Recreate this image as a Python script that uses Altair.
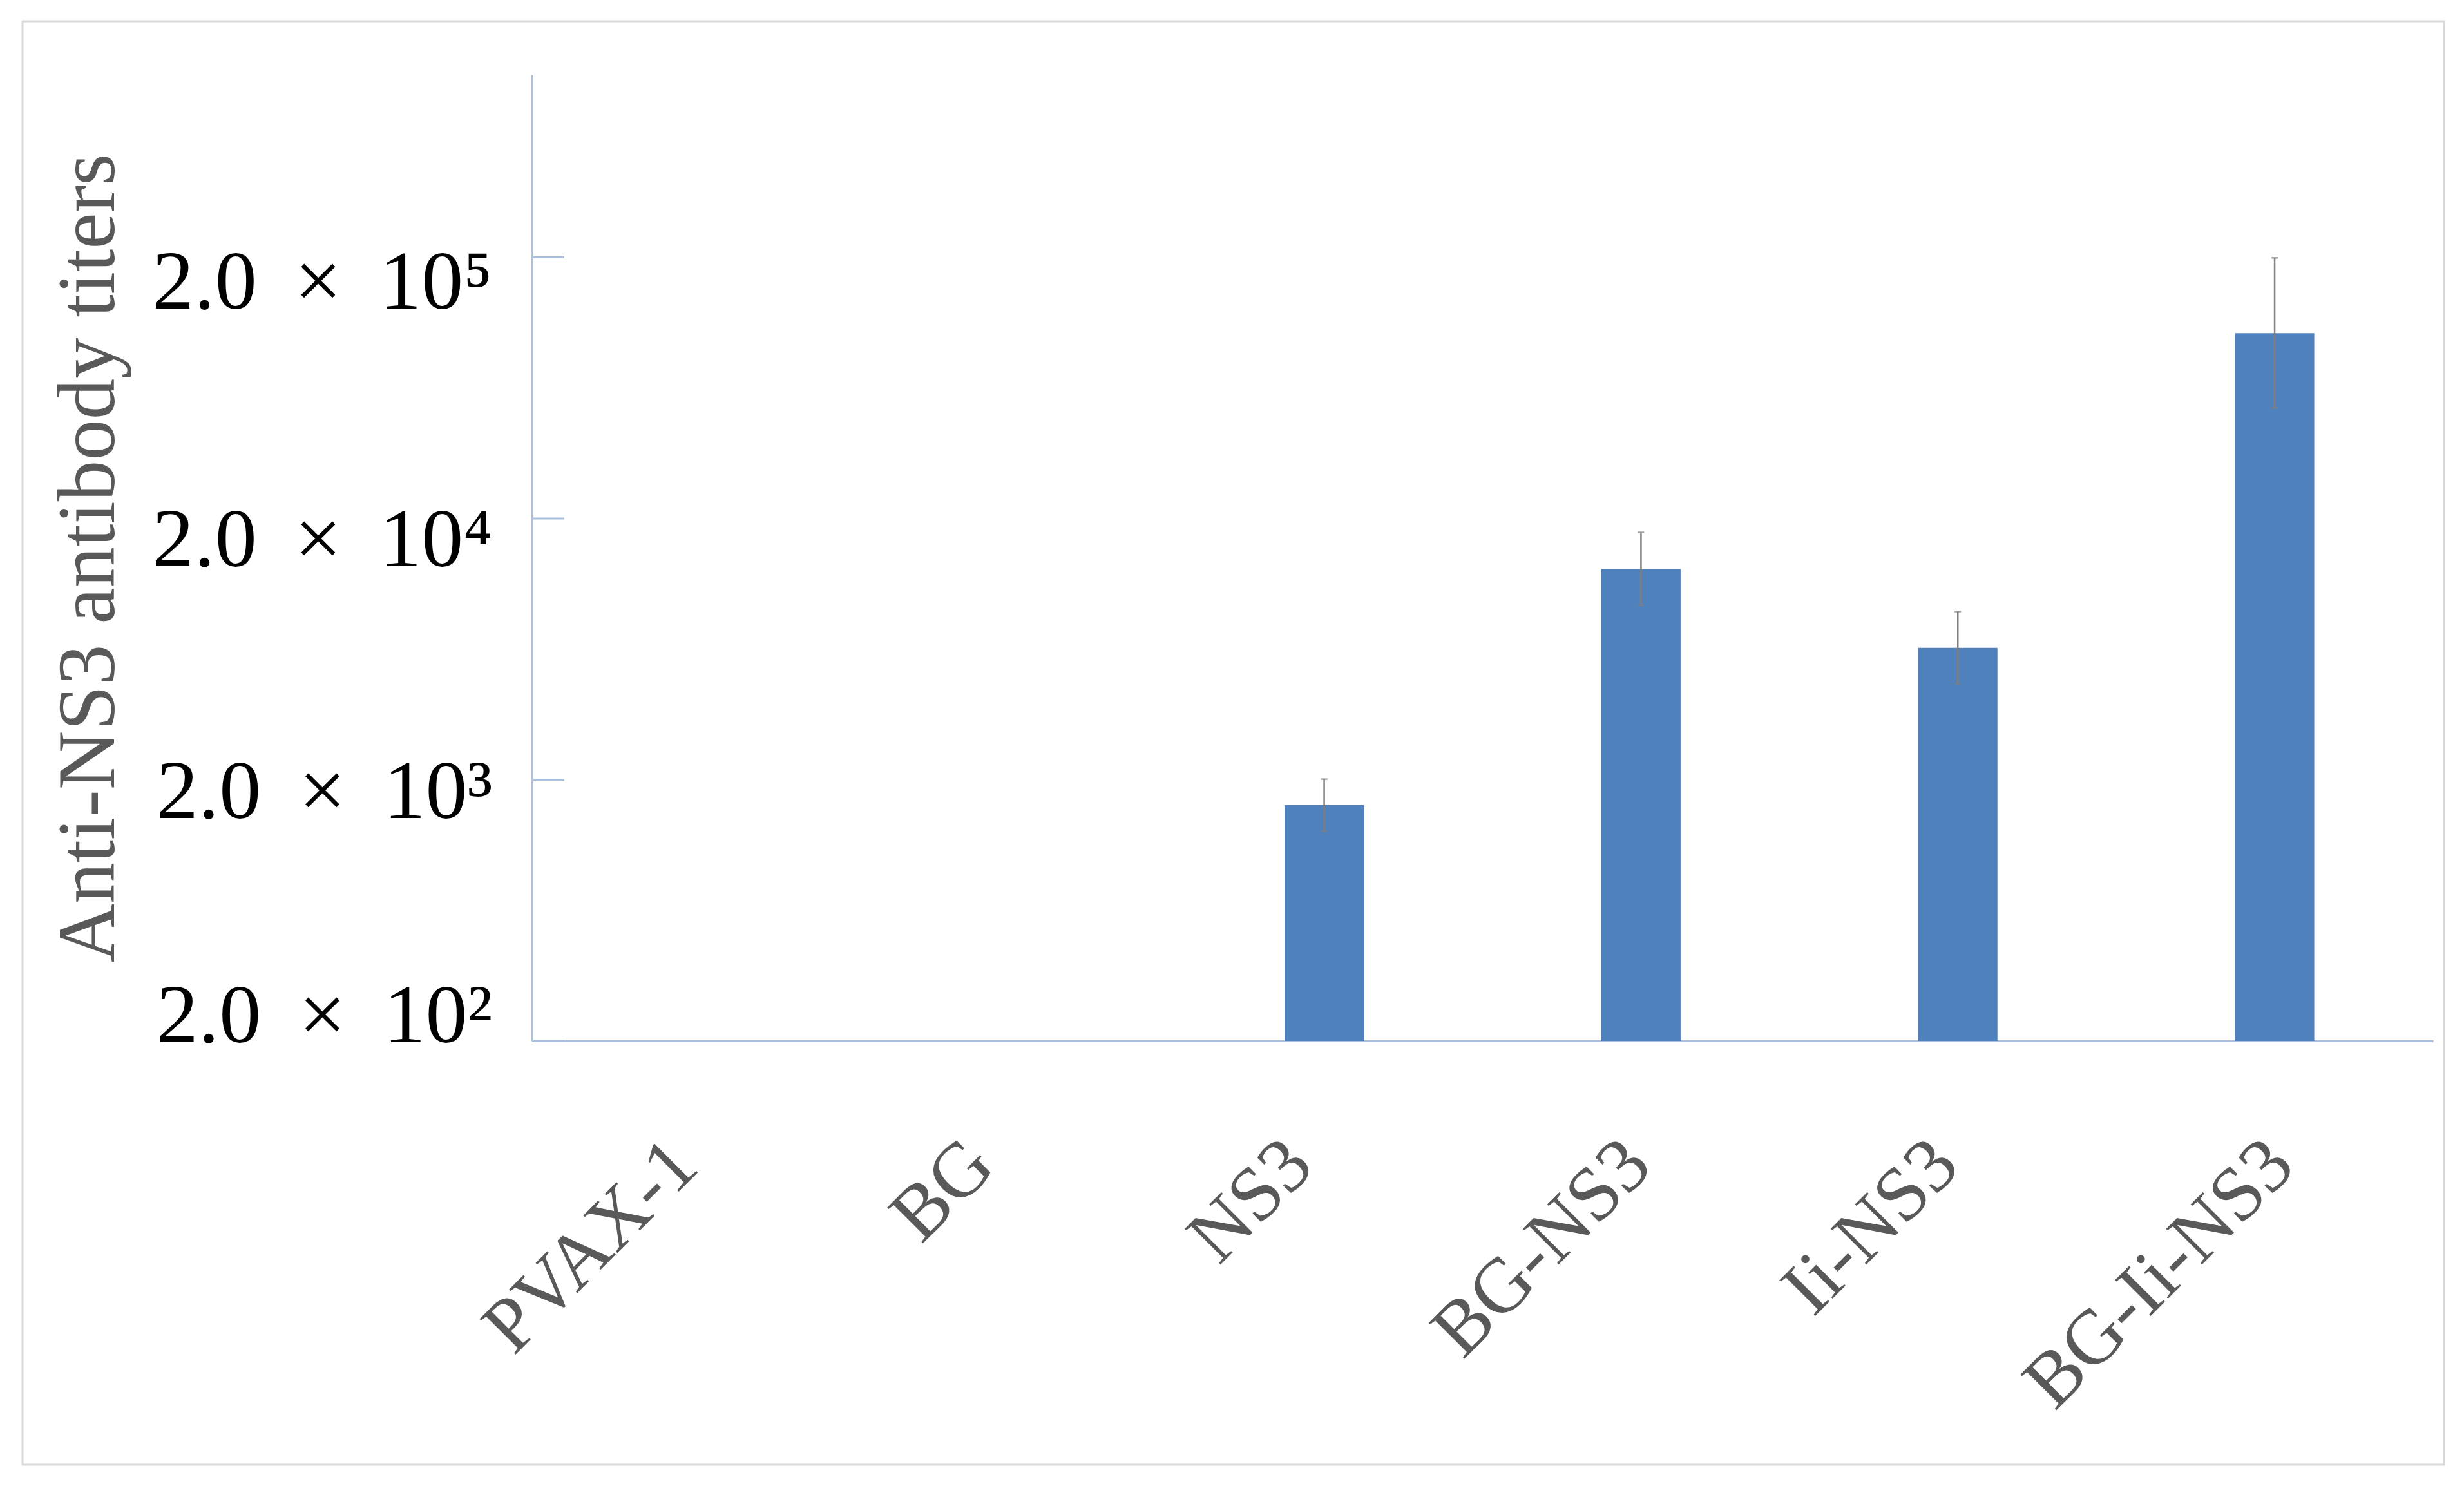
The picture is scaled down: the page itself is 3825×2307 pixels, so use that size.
import altair as alt
import pandas as pd

# ---- data ----
groups = ["PVAX-1", "BG", "NS3", "BG-NS3", "Ii-NS3", "BG-Ii-NS3"]
bar_groups = ["NS3", "BG-NS3", "Ii-NS3", "BG-Ii-NS3"]
titers = [1600, 12800, 6400, 102400]
err_high = [2010, 17700, 8800, 199000]
err_low = [1270, 9300, 4650, 52900]
y_ticks = [200, 2000, 20000, 200000]
y_tick_labels = ["2.0\u2009 ×\u2009 10²", "2.0\u2009 ×\u2009 10³",
                 "2.0\u2009 ×\u2009 10⁴", "2.0\u2009 ×\u2009 10⁵"]
y_title = "Anti-NS3 antibody titers"
y_min, y_max = 200, 1000000

df = pd.DataFrame({"group": bar_groups, "titer": titers, "high": err_high,
                   "low": err_low, "base": [y_min] * len(bar_groups)})
tick_df = pd.DataFrame({"tick": y_ticks})
frame_df = pd.DataFrame({"k": [0]})

# ---- style ----
W, H = 2951, 1500
FONT = "Liberation Serif"
AXIS_COLOR = "#A9BFDC"
GREY = "#595959"
BAR = "#4F81BD"
ERR = "#7F7F7F"

x_label_shift = [-9, -41, -38, -5, -19, 10]
y_label_shift = [-38, 20, 35, 40]

label_expr = " : ".join(f"datum.value == {v} ? '{t}'" for v, t in zip(y_ticks, y_tick_labels)) + " : ''"
y_offset = {"condition": [{"test": f"datum.value == {v}", "value": o}
                          for v, o in zip(y_ticks, y_label_shift)], "value": 0}
x_offset = {"condition": [{"test": f"datum.value == '{g}'", "value": o}
                          for g, o in zip(groups, x_label_shift)], "value": 0}

x_scale = alt.Scale(domain=groups, paddingInner=0.75, paddingOuter=0.375)
y_scale = alt.Scale(type="log", domain=[y_min, y_max], nice=False)

x_axis = alt.Axis(title=None, labelAngle=-45, labelAlign="right", labelBaseline="middle",
                  labelFont=FONT, labelFontSize=120, labelColor=GREY, labelPadding=173,
                  labelOffset=x_offset, labelLimit=3000, ticks=False,
                  domainColor=AXIS_COLOR, domainWidth=3, grid=False)
y_axis = alt.Axis(values=y_ticks, labelExpr=label_expr, ticks=False, grid=False,
                  domainColor=AXIS_COLOR, domainWidth=3,
                  labelFont=FONT, labelFontSize=130, labelColor="black",
                  labelPadding=62, labelOffset=y_offset, labelLimit=3000,
                  labelOverlap=False, labelFlush=False,
                  title=y_title, titleFont=FONT, titleFontSize=127,
                  titleFontWeight="normal", titleColor=GREY,
                  titleAngle=270, titleBaseline="bottom", titleAlign="center",
                  titleX=-623, titleY=H / 2, titleLimit=3000)

frame = alt.Chart(frame_df).mark_rect(fillOpacity=0, stroke="#D9D9D9", strokeWidth=3).encode(
    x=alt.value(-791), x2=alt.value(W + 17), y=alt.value(-83), y2=alt.value(H + 658))

bars = alt.Chart(df).mark_bar(color=BAR).encode(
    x=alt.X("group:N", scale=x_scale, axis=x_axis),
    y=alt.Y("titer:Q", scale=y_scale, axis=y_axis),
    y2="base:Q",
)

ticks = alt.Chart(tick_df).mark_rule(color=AXIS_COLOR, strokeWidth=3).encode(
    y=alt.Y("tick:Q", scale=y_scale, axis=y_axis),
    x=alt.value(0), x2=alt.value(50))

err = alt.Chart(df).mark_rule(color=ERR, strokeWidth=2.5).encode(
    x=alt.X("group:N", scale=x_scale, axis=x_axis),
    y=alt.Y("low:Q", scale=y_scale, axis=y_axis),
    y2="high:Q")

cap_hi = alt.Chart(df).mark_tick(color=ERR, size=10, thickness=2.5).encode(
    x=alt.X("group:N", scale=x_scale, axis=x_axis),
    y=alt.Y("high:Q", scale=y_scale, axis=y_axis))
cap_lo = alt.Chart(df).mark_tick(color=ERR, size=10, thickness=2.5).encode(
    x=alt.X("group:N", scale=x_scale, axis=x_axis),
    y=alt.Y("low:Q", scale=y_scale, axis=y_axis))

chart = alt.layer(bars, ticks, err, cap_hi, cap_lo, frame).properties(
    width=W, height=H,
    padding={"left": 25, "top": 23, "right": 6, "bottom": 6},
    background="white",
).configure_view(stroke=None)

chart.save("out.html", embed_options={"renderer": "svg", "actions": False})
